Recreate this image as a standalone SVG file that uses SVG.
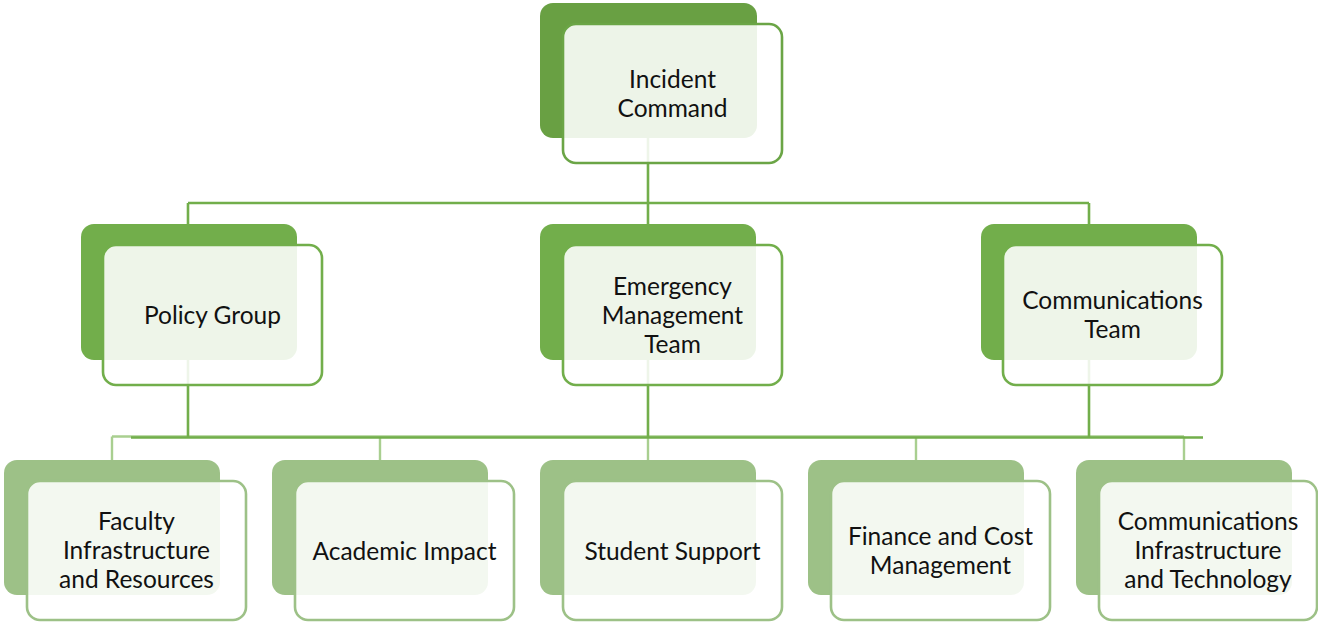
<svg xmlns="http://www.w3.org/2000/svg" width="1318" height="622" viewBox="0 0 1318 622">
  <style>
    .back1 { fill: #69A043; }
    .back2 { fill: #72AE4B; }
    .back3 { fill: #9DC187; }
    .front { fill: #FFFFFF; fill-opacity: 0.88; stroke-width: 2.6; }
    .f1 { stroke: #6BA546; }
    .f2 { stroke: #72AE4B; }
    .f3 { stroke: #9DC187; }
    .lbl { font-family: Lato, "Liberation Sans", sans-serif; font-size: 24.5px; fill: #111111; text-anchor: middle; dominant-baseline: central; }
    .link { fill: none; stroke: #72AE4B; stroke-width: 2.6; }
    .link-lt { fill: none; stroke: #A9CF90; stroke-width: 2.4; }
  </style>

  <!-- connectors -->
  <g id="connectors">
    <path class="link" d="M648 138 V224 M188 203 H1089 M188 203 V224 M1089 203 V224"/>
    <path class="link-lt" d="M112 436.5 H1184 M112 436.5 V460 M380 436.5 V460 M648 436.5 V460 M916 436.5 V460 M1184 436.5 V460"/>
    <path class="link" d="M131 437.5 H1203 M188 360 V437.5 M648 360 V437.5 M1089 360 V437.5"/>
  </g>

  <!-- level 1 -->
  <g id="incident-command">
    <rect class="back1" x="540" y="3" width="217" height="135" rx="13"/>
    <rect class="front f1" x="563" y="24" width="219" height="139" rx="13"/>
    <text class="lbl" x="672.5" y="78.5">Incident</text>
    <text class="lbl" x="672.5" y="107.5">Command</text>
  </g>

  <!-- level 2 -->
  <g id="policy-group">
    <rect class="back2" x="81" y="224" width="216" height="136" rx="13"/>
    <rect class="front f2" x="103" y="245" width="219" height="140" rx="13"/>
    <text class="lbl" x="212.5" y="314.5">Policy Group</text>
  </g>
  <g id="emergency-management-team">
    <rect class="back2" x="540" y="224" width="216" height="136" rx="13"/>
    <rect class="front f2" x="563" y="245" width="219" height="140" rx="13"/>
    <text class="lbl" x="672.5" y="285.5">Emergency</text>
    <text class="lbl" x="672.5" y="314.5">Management</text>
    <text class="lbl" x="672.5" y="343.5">Team</text>
  </g>
  <g id="communications-team">
    <rect class="back2" x="981" y="224" width="216" height="136" rx="13"/>
    <rect class="front f2" x="1003" y="245" width="219" height="140" rx="13"/>
    <text class="lbl" x="1112.5" y="299.5">Communications</text>
    <text class="lbl" x="1112.5" y="328.5">Team</text>
  </g>

  <!-- level 3 -->
  <g id="faculty-infrastructure">
    <rect class="back3" x="4" y="460" width="216" height="135" rx="13"/>
    <rect class="front f3" x="27" y="481" width="219" height="139" rx="13"/>
    <text class="lbl" x="136.5" y="520.5">Faculty</text>
    <text class="lbl" x="136.5" y="549.5">Infrastructure</text>
    <text class="lbl" x="136.5" y="578.5">and Resources</text>
  </g>
  <g id="academic-impact">
    <rect class="back3" x="272" y="460" width="216" height="135" rx="13"/>
    <rect class="front f3" x="295" y="481" width="219" height="139" rx="13"/>
    <text class="lbl" x="404.5" y="550">Academic Impact</text>
  </g>
  <g id="student-support">
    <rect class="back3" x="540" y="460" width="216" height="135" rx="13"/>
    <rect class="front f3" x="563" y="481" width="219" height="139" rx="13"/>
    <text class="lbl" x="672.5" y="550">Student Support</text>
  </g>
  <g id="finance-cost">
    <rect class="back3" x="808" y="460" width="216" height="135" rx="13"/>
    <rect class="front f3" x="831" y="481" width="219" height="139" rx="13"/>
    <text class="lbl" x="940.5" y="535.5">Finance and Cost</text>
    <text class="lbl" x="940.5" y="564.5">Management</text>
  </g>
  <g id="communications-infrastructure">
    <rect class="back3" x="1076" y="460" width="216" height="135" rx="13"/>
    <rect class="front f3" x="1099" y="481" width="218" height="139" rx="13"/>
    <text class="lbl" x="1208" y="520.5">Communications</text>
    <text class="lbl" x="1208" y="549.5">Infrastructure</text>
    <text class="lbl" x="1208" y="578.5">and Technology</text>
  </g>
</svg>
